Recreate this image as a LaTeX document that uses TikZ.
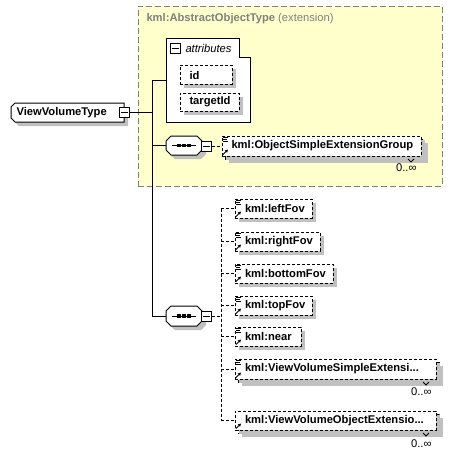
\documentclass[tikz,border=0pt]{standalone}
\usepackage{fontspec}
\setmainfont{Liberation Sans}
\usetikzlibrary{shadows,fit,arrows.meta}
\definecolor{ylw}{RGB}{255,255,204}
\definecolor{ttl}{RGB}{128,128,128}
\definecolor{shd}{RGB}{192,192,192}
\begin{document}
\begin{tikzpicture}[x=1pt,y=-1pt,line width=1pt,
  lbl/.style={font=\fontsize{11.2}{13}\bfseries\selectfont,inner sep=0,anchor=west},
  nlbl/.style={font=\fontsize{11.2}{13}\selectfont,inner sep=0},
  shdw/.style={drop shadow={shadow xshift=4pt,shadow yshift=-4pt,fill=shd,opacity=1}},
  dsh/.style={dash pattern=on 3pt off 2pt},
  elembox/.style={draw,dsh,fill=white,inner sep=0,shdw},
  backbox/.style={draw,dsh,fill=white,inner sep=0,shdw},
  minusbox/.style={draw,fill=white,inner sep=0,minimum size=10pt},
]
\useasboundingbox (0,0) rectangle (468,456);
\newcommand\ellines[1]{\draw[line width=0.8pt] ([shift={(1.5,1.5)}]#1.north west) -- ++(5,0) ([shift={(1.5,3.5)}]#1.north west) -- ++(4,0) ([shift={(1.5,5.5)}]#1.north west) -- ++(5,0);}
\newcommand\elarrow[1]{\draw[line width=1pt,-{Triangle[length=3pt,width=3pt]}] ([shift={(1.5,-2)}]#1.south west) -- ++(5,-5);}
\newcommand\minusin[1]{\draw[line width=1pt] ([xshift=2pt]#1.west) -- ([xshift=-2pt]#1.east);}

% extension box
\node[draw=ttl,dash pattern=on 6pt off 3pt,fill=ylw,inner sep=0,fit={(138,6)(442,186)}] (ext) {};
\node[inner sep=0,anchor=west,text=ttl,font=\fontsize{11.2}{13}\selectfont] (exttitle) at (146,19) {\textbf{kml:AbstractObjectType} (extension)};

% attributes
\draw[fill=white] (166,38) -- (239,38) -- (239,57) -- (250,57) -- (250,122) -- (166,122) -- cycle;
\coordinate (attrW) at (166,80);
\node[minusbox] (attrm) at (175,48) {};
\minusin{attrm}
\node[nlbl,anchor=west,font=\fontsize{11.2}{13}\itshape\selectfont] (attrt) at (185,48) {attributes};
\node[elembox,fit={(180,65)(232,84)}] (id) {};
\node[lbl] (idt) at (189,75) {id};
\node[elembox,fit={(180,93)(239,111)}] (tid) {};
\node[lbl] (tidt) at (189,102) {targetId};

% root
\draw[fill=white,shdw] (15,103) -- (124,103) -- (124,122) -- (15,122) -- (11,118) -- (11,107) -- cycle;
\node[lbl] (vvt) at (16,113) {ViewVolumeType};
\node[minusbox] (vvtm) at (124,112.5) {};
\minusin{vvtm}

% sequence 1
\draw[fill=white,shdw] (171,136) -- (197,136) -- (202,141) -- (202,150) -- (197,155) -- (171,155) -- (166,150) -- (166,141) -- cycle;
\coordinate (seq1W) at (166,145.5);
\draw (172,145.5) -- (196,145.5);
\foreach \xx in {179,184,189} \fill (\xx-1.7,143.8) rectangle (\xx+1.7,147.2);
\node[minusbox] (seq1m) at (206,146) {};
\minusin{seq1m}

% ObjectSimpleExtensionGroup (repeated)
\node[backbox,fit={(225,139)(424,159)}] (osegb) {};
\node[elembox,fit={(222,136)(421,156)},drop shadow={opacity=0}] (oseg) {};
\draw[line width=0.8pt] (408,159) -- (411,162) -- (414,159);
\ellines{oseg}\elarrow{oseg}
\node[lbl] (osegt) at (231,146) {kml:ObjectSimpleExtensionGroup};
\node[nlbl,anchor=east] (osegm) at (417,168) {0..∞};

% sequence 2
\draw[fill=white,shdw] (171,306) -- (197,306) -- (202,311) -- (202,321) -- (197,326) -- (171,326) -- (166,321) -- (166,311) -- cycle;
\coordinate (seq2W) at (166,316);
\draw (172,316) -- (196,316);
\foreach \xx in {179,184,189} \fill (\xx-1.7,314.3) rectangle (\xx+1.7,317.7);
\node[minusbox] (seq2m) at (206,316) {};
\minusin{seq2m}

% children
\node[elembox,fit={(235,199)(312,218)}] (lf) {};
\ellines{lf}\elarrow{lf}
\node[lbl] (lft) at (244.5,208.5) {kml:leftFov};

\node[elembox,fit={(235,232)(320,251)}] (rf) {};
\ellines{rf}\elarrow{rf}
\node[lbl] (rft) at (244.5,241.5) {kml:rightFov};

\node[elembox,fit={(235,264)(333,283)}] (bf) {};
\ellines{bf}\elarrow{bf}
\node[lbl] (bft) at (244.5,273.5) {kml:bottomFov};

\node[elembox,fit={(235,296)(312,315)}] (tf) {};
\ellines{tf}\elarrow{tf}
\node[lbl] (tft) at (244.5,305.5) {kml:topFov};

\node[elembox,fit={(235,327)(301,346)}] (nr) {};
\ellines{nr}\elarrow{nr}
\node[lbl] (nrt) at (244.5,336.5) {kml:near};

\node[backbox,fit={(238,362)(439,382)}] (vvsb) {};
\node[elembox,fit={(235,359)(436,379)},drop shadow={opacity=0}] (vvs) {};
\draw[line width=0.8pt] (423,382) -- (426,385) -- (429,382);
\ellines{vvs}\elarrow{vvs}
\node[lbl] (vvst) at (244.5,369) {kml:ViewVolumeSimpleExtensi...};
\node[nlbl,anchor=east] (vvsm) at (432,392) {0..∞};

\node[backbox,fit={(238,414)(439,433)}] (vvob) {};
\node[elembox,fit={(235,411)(436,430)},drop shadow={opacity=0}] (vvo) {};
\draw[line width=0.8pt] (423,433) -- (426,436) -- (429,433);
\elarrow{vvo}
\node[lbl] (vvot) at (244.5,420.5) {kml:ViewVolumeObjectExtensio...};
\node[nlbl,anchor=east] (vvom) at (432,444) {0..∞};

% connectors
\coordinate (sp) at (152,0);
\draw (vvtm.east) -- (sp |- vvtm.east);
\draw (sp |- attrW) -- (sp |- seq2W);
\draw (sp |- attrW) -- (attrW);
\draw (sp |- seq1W) -- (seq1W);
\draw (sp |- seq2W) -- (seq2W);
\draw[dsh] (seq1m.east) -- (oseg.west |- seq1m.east);
\coordinate (sp2) at (221,0);
\draw[dsh] (seq2m.east) -- (sp2 |- seq2m.east);
\draw[dsh] (sp2 |- lf.west) -- (sp2 |- vvo.west);
\foreach \n in {lf,rf,bf,tf,nr,vvs,vvo} \draw[dsh] (sp2 |- \n.west) -- (\n.west);
\end{tikzpicture}
\end{document}
